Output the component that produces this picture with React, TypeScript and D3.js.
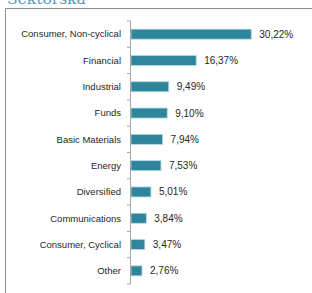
import React from 'react';
import * as d3 from 'd3';

const sectors = [
  'Consumer, Non-cyclical',
  'Financial',
  'Industrial',
  'Funds',
  'Basic Materials',
  'Energy',
  'Diversified',
  'Communications',
  'Consumer, Cyclical',
  'Other',
];
const shares = [30.22, 16.37, 9.49, 9.1, 7.94, 7.53, 5.01, 3.84, 3.47, 2.76];
const title = 'Sektorska';

const W = 312;
const H = 293;

export default function App() {
  const x = d3.scaleLinear().domain([0, 35]).range([131, 131 + 35 * 3.98]);
  const y = d3
    .scaleBand<string>()
    .domain(sectors)
    .range([21, 284])
    .paddingInner(0.62)
    .paddingOuter(0.31);
  const step = y.step();
  const fmt = (v: number) => v.toFixed(2).replace('.', ',') + '%';
  const axisX = 130.5;
  const boundaries = d3.range(sectors.length + 1).map((i) => 21 + i * step);

  return (
    <svg
      width={W}
      height={H}
      style={{ position: 'absolute', left: 0, top: 0, background: '#fff' }}
    >
      {/* title sits mostly above the visible area, as in the source */}
      <text
        x={7}
        y={4}
        fontFamily="'DejaVu Serif', serif"
        fontSize={15.5}
        fill="#4a9dc0"
      >
        {title}
      </text>
      <line x1={5.5} x2={W} y1={8.5} y2={8.5} stroke="#8c8c8c" />
      <line x1={5.5} x2={5.5} y1={8.5} y2={H} stroke="#8c8c8c" />

      {sectors.map((s, i) => (
        <g key={s}>
          <rect
            x={x(0)}
            y={y(s)!}
            width={x(shares[i]) - x(0)}
            height={y.bandwidth()}
            fill="#2f859c"
            stroke="#b3d9e3"
            strokeWidth={0.8}
          />
          <text
            x={121}
            y={y(s)! + y.bandwidth() / 2}
            dy="0.35em"
            textAnchor="end"
            fontFamily="'Liberation Sans', Arial, sans-serif"
            fontSize={9.5}
            fill="#262626"
          >
            {s}
          </text>
          <text
            x={x(shares[i]) + 8}
            y={y(s)! + y.bandwidth() / 2}
            dy="0.35em"
            fontFamily="'Liberation Sans', Arial, sans-serif"
            fontSize={10}
            fill="#262626"
          >
            {fmt(shares[i])}
          </text>
        </g>
      ))}

      <line x1={axisX} x2={axisX} y1={21} y2={284} stroke="#a6a6a6" />
      {boundaries.map((b, i) => (
        <line key={i} x1={127} x2={axisX} y1={b} y2={b} stroke="#a6a6a6" />
      ))}
    </svg>
  );
}
